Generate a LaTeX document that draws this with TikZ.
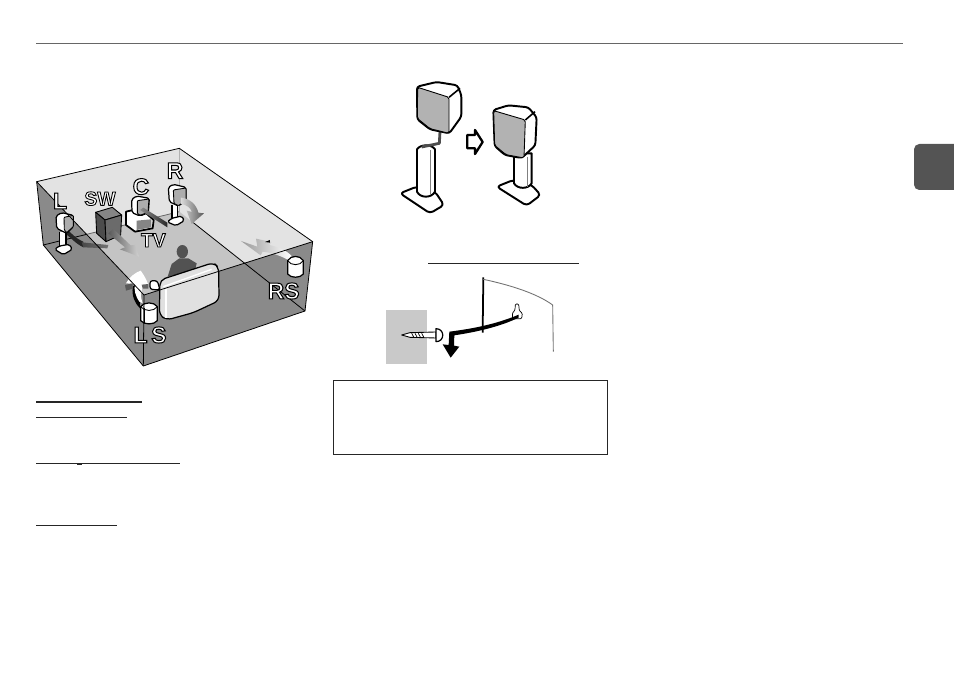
\documentclass[tikz,border=0pt]{standalone}
\usepackage{fontspec}
\newfontfamily\tagfont[FakeBold=4.5]{Liberation Sans Bold}
\newcommand{\tagtext}[1]{\special{pdf:bcolor [1] [0]}#1\special{pdf:ecolor}}
\begin{document}
\begin{tikzpicture}[x=0.02cm,y=-0.02cm]
    \tikzset{edge/.style={draw=black, line width=0.45pt},
             rule/.style={draw=black!85, line width=0.65pt},
             body/.style={draw=black, line width=0.7pt, fill=white, line join=round},
             face/.style={draw=black, line width=0.5pt, fill=black!32, line join=round},
             thickbody/.style={draw=black, line width=1.1pt, fill=white, line join=round},
             tag/.style={font=\tagfont\fontsize{13}{14}\selectfont, inner sep=0pt},
             smalltag/.style={font=\tagfont\fontsize{11}{12}\selectfont, inner sep=0pt}}
    \useasboundingbox (0,0) rectangle (954,675);

    % ---- Page rules and tab ----
    \draw[draw=black!60, line width=0.5pt] (36,43.5) -- (903,43.5);
    \fill[black!67, rounded corners=3pt] (970,144) -- (914,144) -- (914,190) -- (970,190) -- cycle;
    \draw[rule] (36,402) -- (142,402);
    \draw[rule] (36,417.5) -- (127,417.5);
    \draw[rule] (36,463.5) -- (180,463.5);
    \draw[rule] (77,464.4) -- (82,464.4);
    \draw[rule] (36,525.5) -- (117,525.5);
    \draw[rule] (428,263.5) -- (579,263.5);
    \draw[rule, line width=0.5pt] (333.5,380) rectangle (607,454.5);

    % ---- Room ----
    \begin{scope}[shift={(20,130)},scale=1/3]
    \fill[black!11] (50,155) -- (478,55) -- (878,335) -- (372,495) -- cycle;
    \fill[black!23] (200,313) -- (478,245) -- (674,400) -- (372,495) -- cycle;
    \fill[black!46] (50,155) -- (372,495) -- (370,708) -- (70,345) -- cycle;
    \fill[black!46] (372,495) -- (878,335) -- (855,543) -- (370,708) -- cycle;
    \draw[edge] (70,345) -- (200,313);
    \draw[edge, black!60] (200,313) -- (478,245);
    \draw[edge] (520,278) -- (855,543);
    \draw[black!30, line width=0.4pt] (478,55) -- (478,245);

    % speaker L and its arrow
    \fill[black!85] (135,292) .. controls (150,305) and (165,325) .. (190,335)
          -- (190,352) .. controls (165,340) and (150,320) .. (135,310) -- cycle;
    \shade[left color=black!72, right color=black!55] (185,337) -- (265,345) -- (262,355) -- (190,352) -- cycle;
    \draw[body] (118,305) -- (118,350) -- (138,350) -- (138,305);
    \draw[body, rounded corners=1pt] (104,358) -- (118,348) -- (148,343) -- (157,358) -- (130,374) -- cycle;
    \draw[body, rounded corners=1pt] (108,258) -- (125,248) -- (160,256) -- (160,290) -- (140,310) -- (110,295) -- cycle;
    \draw[face, rounded corners=0.5pt] (132,262) -- (160,256) -- (160,290) -- (140,308) -- (133,300) -- cycle;

    % subwoofer
    \draw[face, fill=black!48] (227,247) -- (277,232) -- (305,255) -- (255,270) -- cycle;
    \draw[face, fill=black!70] (227,247) -- (255,270) -- (258,335) -- (230,310) -- cycle;
    \draw[face, fill=black!58] (255,270) -- (305,255) -- (302,315) -- (258,335) -- cycle;
    \shade[left color=black!65, right color=black!18] (265,310) -- (280,297) -- (332,346) -- (345,345)
          -- (357,380) -- (300,358) -- (315,352) -- cycle;

    % TV and speaker C
    \draw[body, line width=1pt] (318,245) -- (362,235) -- (401,270) -- (398,295) -- (345,305) -- (318,285) -- cycle;
    \fill[black!48] (350,272) -- (394,268) -- (394,292) -- (350,300) -- cycle;
    \draw[body, rounded corners=1pt] (335,208) -- (350,198) -- (388,205) -- (385,248) -- (360,258) -- (336,248) -- cycle;
    \draw[face, rounded corners=0.5pt] (352,212) -- (387,207) -- (384,247) -- (360,256) -- (352,250) -- cycle;
    \shade[left color=black!45, right color=black!85] (360,240) -- (370,233) -- (442,278) -- (442,292) -- cycle;

    % speaker R and its arrow
    \draw[body] (456,225) -- (456,265) -- (472,265) -- (472,225);
    \draw[body, rounded corners=1pt] (442,276) -- (455,265) -- (485,258) -- (493,272) -- (468,287) -- cycle;
    \draw[body, rounded corners=1pt] (445,172) -- (460,163) -- (498,172) -- (498,212) -- (475,228) -- (448,215) -- cycle;
    \draw[face, rounded corners=0.5pt] (460,180) -- (498,174) -- (498,212) -- (475,227) -- (462,220) -- cycle;
    \shade[left color=black!15, right color=black!65] (483,203) .. controls (510,205) and (530,225) .. (535,248) -- (552,250)
          -- (515,282) -- (500,242) -- (516,246) .. controls (510,232) and (500,225) .. (483,222) -- cycle;

    % listener and sofa
    \fill[black!68] (487,365) ellipse (17 and 20);
    \fill[black!68] (443,440) -- (455,402) -- (478,385) -- (505,385) -- (530,400) -- (526,418) -- cycle;
    \draw[body, rounded corners=1.5pt] (390,478) -- (390,452) -- (412,452) -- (420,480) -- cycle;
    \draw[body, fill=black!12, rounded corners=3pt] (420,450) -- (580,398) -- (596,412) -- (597,512)
          -- (520,548) -- (440,570) -- (418,555) -- cycle;
    \draw[white, line width=0.8pt] (430,470) -- (575,418);
    \draw[white, line width=0.8pt] (438,478) -- (438,565);

    % arrow from LS
    \fill[black] (338,470) .. controls (335,500) and (345,520) .. (360,535) -- (360,512)
          .. controls (345,495) and (342,480) .. (345,465) -- cycle;
    \fill[white] (318,460) .. controls (330,440) and (345,428) .. (362,422) .. controls (372,435) and (380,450) .. (385,465)
          -- (372,465) .. controls (362,480) and (360,500) .. (368,520)
          -- (358,515) .. controls (345,495) and (342,480) .. (345,462) -- cycle;
    \fill[black!65] (315,465) -- (338,460) -- (338,476) -- (318,482) -- cycle;
    \fill[black!60] (365,464) -- (385,462) -- (385,476) -- (368,476) -- cycle;

    % arrow from RS
    \shade[left color=black!40, middle color=white, right color=white] (663,333) -- (712,350) -- (708,326) -- (755,336) -- (748,345)
          .. controls (775,350) and (800,362) .. (815,378) -- (808,392) .. controls (785,378) and (755,368) .. (728,365) -- (722,376) -- cycle;
    \fill[black] (735,336) -- (750,330) -- (750,338) -- cycle;

    % surround speakers
    \draw[body] (362,530) .. controls (372,515) and (402,515) .. (412,530) -- (412,572)
          .. controls (402,585) and (372,585) .. (362,572) -- cycle;
    \draw[black, line width=0.5pt] (362,530) .. controls (372,545) and (402,545) .. (412,530);
    \draw[black, line width=0.5pt] (372,535) -- (372,580);
    \draw[body] (803,392) .. controls (812,375) and (841,375) .. (850,392) -- (850,432)
          .. controls (841,445) and (812,445) .. (803,432) -- cycle;
    \draw[black, line width=0.5pt] (803,392) .. controls (812,408) and (841,408) .. (850,392);

    % room edges in front
    \draw[edge] (50,155) -- (478,55) -- (878,335) -- (855,543) -- (370,708) -- (70,345) -- cycle;
    \draw[edge] (50,155) -- (372,495) -- (878,335);
    \draw[edge] (372,495) -- (370,708);

    % speaker names
    \node[tag] (tagL) at (120,213) {\tagtext{L}};
    \node[smalltag] (tagSW) at (240,206) {\tagtext{SW}};
    \node[tag] (tagC) at (363,170) {\tagtext{C}};
    \node[tag] (tagR) at (465,122) {\tagtext{R}};
    \node[smalltag] (tagTV) at (400,331) {\tagtext{TV}};
    \node[tag] (tagRS) at (791,483) {\tagtext{RS}};
    \node[tag] (tagLS) at (390,615) {\tagtext{L\,S}};
    \end{scope}

    % ---- Speaker before and after ----
    \begin{scope}[shift={(380,70)},scale=1/3]
    \draw[thickbody, rounded corners=2pt] (60,370) -- (110,350) -- (165,365) -- (192,405) -- (150,430) -- cycle;
    \draw[thickbody] (111,238) -- (111,365) .. controls (120,385) and (155,385) .. (165,365) -- (165,238)
          .. controls (155,222) and (121,222) .. (111,238) -- cycle;
    \draw[black!50, line width=0.4pt] (150,240) -- (150,375);
    \draw[black!70, line width=1.6pt, line join=round] (180,185) -- (178,220) -- (125,231);
    \draw[thickbody, rounded corners=1.5pt] (111,50) -- (170,36) -- (232,46) -- (244,75) -- (244,140) -- (208,190) -- (150,178) -- (112,148) -- cycle;
    \draw[draw=black, line width=0.5pt, fill=black!30, rounded corners=1pt] (113,52) -- (207,82) -- (207,190) -- (150,176) -- (112,145) -- cycle;
    \draw[black, line width=0.9pt] (207,82) -- (240,55);

    \draw[thickbody, line width=1.3pt] (262,195) -- (285,195) -- (285,180) -- (308,216) -- (285,252) -- (285,235) -- (262,235) -- cycle;

    \draw[thickbody, rounded corners=2pt] (350,350) -- (400,330) -- (455,345) -- (482,375) -- (440,407) -- cycle;
    \draw[thickbody] (402,250) -- (402,340) .. controls (412,358) and (445,358) .. (455,340) -- (455,250) -- cycle;
    \draw[black!50, line width=0.4pt] (442,260) -- (442,350);
    \draw[thickbody, rounded corners=1.5pt] (340,120) -- (385,106) -- (445,112) -- (470,142) -- (466,226) -- (425,264) -- (375,255) -- (344,228) -- cycle;
    \draw[draw=black, line width=0.5pt, fill=black!30, rounded corners=1pt] (341,122) -- (436,150) -- (432,264) -- (378,254) -- (344,226) -- cycle;
    \draw[black, line width=0.9pt] (436,150) -- (465,125);
    \end{scope}

    % ---- Wall mounting ----
    \begin{scope}[shift={(330,250)},scale=1/3]
    \fill[black!21] (168,180) rectangle (291,342);
    \draw[body, line width=0.5pt] (215,255) -- (240,248) -- (318,246) -- (318,264) -- (240,262) -- cycle;
    \foreach \tx in {245,255,265,275}
        \draw[black, line width=0.4pt] (\tx,250) -- (\tx+6,261);
    \draw[body] (318,236) .. controls (345,236) and (345,275) .. (318,275) -- cycle;
    \draw[black, line width=1pt] (460,82) -- (458,248);
    \draw[black!55, line width=0.5pt] (460,88) .. controls (540,105) and (620,130) .. (668,165) -- (670,305);
    \draw[body, line width=0.4pt, rounded corners=0.6pt] (556,162) -- (566,162) -- (568,182) -- (577,190) -- (575,206) -- (548,206) -- (547,190) -- (555,180) -- cycle;
    \fill[black] (566,194) .. controls (500,222) and (430,236) .. (358,245) -- (356,285) -- (338,283)
          -- (362,323) -- (388,290) -- (372,287) -- (373,256) .. controls (440,246) and (510,230) .. (566,203) -- cycle;
    \end{scope}
\end{tikzpicture}
\end{document}
